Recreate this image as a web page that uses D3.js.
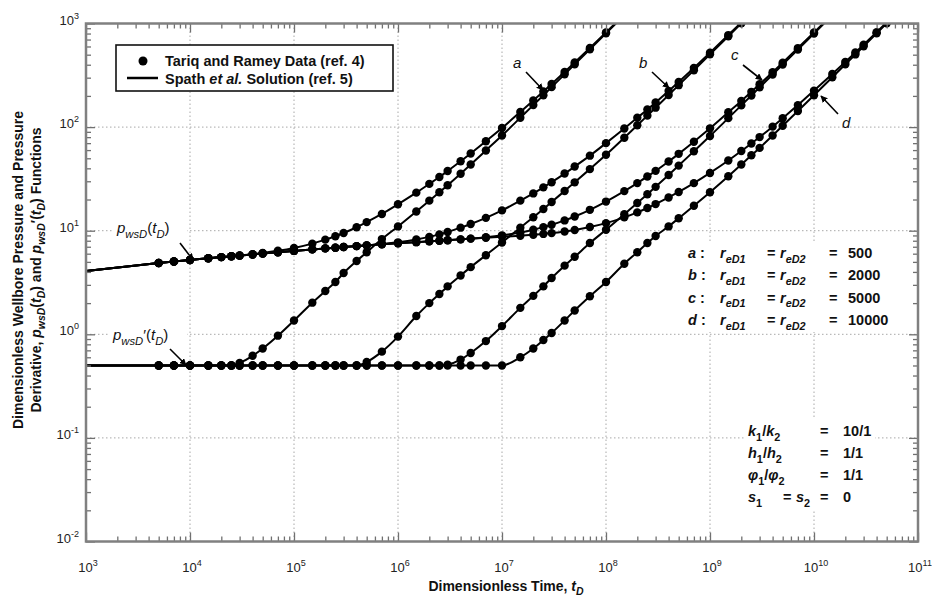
<!DOCTYPE html>
<html><head><meta charset="utf-8">
<script src="https://cdn.jsdelivr.net/npm/d3@7/dist/d3.min.js"></script>
<style>body{margin:0;background:#fff}svg{display:block;font-family:"Liberation Sans",Arial,Helvetica,sans-serif}</style>
</head><body><svg id="c" width="932" height="606"></svg>
<script>
// ---------------- DATA ----------------
// shared early-time pressure and derivative (all four cases coincide)
const pressureEarly = [[1e3,4.08],[5e3,4.88],[7e3,5.05],[1e4,5.22],[1.5e4,5.42],[2e4,5.56],[2.5e4,5.66],[3e4,5.75],[4e4,5.9],[5e4,6.02],[7e4,6.2],[1e5,6.38],[1.5e5,6.6],[2e5,6.75],[2.5e5,6.86],[3e5,6.95],[4e5,7.1],[5e5,7.22],[7e5,7.4],[1e6,7.55],[1.5e6,7.75],[2e6,7.9],[2.5e6,8.0],[3e6,8.1],[4e6,8.25],[5e6,8.38],[7e6,8.55],[1e7,8.72]];
const derivativeEarly = [[1e3,0.5],[5e3,0.5],[7e3,0.5],[1e4,0.5],[1.5e4,0.5],[2e4,0.5],[2.5e4,0.5],[3e4,0.5],[4e4,0.5],[5e4,0.5],[7e4,0.5],[1e5,0.5],[1.5e5,0.5],[2e5,0.5],[2.5e5,0.5],[3e5,0.5],[4e5,0.5],[5e5,0.5],[7e5,0.5],[1e6,0.5],[1.5e6,0.5],[2e6,0.5],[2.5e6,0.5],[3e6,0.5],[4e6,0.5],[5e6,0.5],[7e6,0.5],[1e7,0.5]];
// case-specific late-time parts (after each curve leaves the shared part)
const departA = 2.5e4, departB = 4e5, departC = 2.5e6, departD = 1e7;
const pressureA = [[3e4,5.76],[4e4,5.94],[5e4,6.1],[7e4,6.4],[1e5,6.82],[1.5e5,7.5],[2e5,8.2],[2.5e5,8.85],[3e5,9.5],[4e5,10.8],[5e5,12.1],[7e5,14.5],[1e6,18],[1.5e6,23.3],[2e6,28.3],[2.5e6,33],[3e6,37.7],[4e6,46.8],[5e6,55.6],[7e6,73],[1e7,98],[1.5e7,140],[2e7,181],[2.5e7,221],[3e7,261],[4e7,341],[5e7,421],[7e7,581],[1e8,821],[1.5e8,1221]];
const derivativeA = [[3e4,0.53],[4e4,0.62],[5e4,0.73],[7e4,0.97],[1e5,1.36],[1.5e5,2.02],[2e5,2.62],[2.5e5,3.2],[3e5,3.9],[4e5,5.1],[5e5,6.2],[7e5,8.3],[1e6,11],[1.5e6,15.3],[2e6,19.5],[2.5e6,23.5],[3e6,27.5],[4e6,35.5],[5e6,43.5],[7e6,59.5],[1e7,83],[1.5e7,123],[2e7,163],[2.5e7,203],[3e7,243],[4e7,323],[5e7,403],[7e7,563],[1e8,803],[1.5e8,1203]];
const pressureB = [[5e5,7.22],[7e5,7.43],[1e6,7.72],[1.5e6,8.22],[2e6,8.72],[2.5e6,9.22],[3e6,9.72],[4e6,10.7],[5e6,11.6],[7e6,13.3],[1e7,15.7],[1.5e7,19.5],[2e7,22.9],[2.5e7,26.2],[3e7,29.4],[4e7,35.6],[5e7,41.6],[7e7,53],[1e8,70],[1.5e8,97],[2e8,123],[2.5e8,148],[3e8,173],[4e8,223],[5e8,273],[7e8,373],[1e9,523],[1.5e9,773],[2e9,1023]];
const derivativeB = [[5e5,0.54],[7e5,0.68],[1e6,0.95],[1.5e6,1.5],[2e6,2.0],[2.5e6,2.45],[3e6,2.9],[4e6,3.7],[5e6,4.45],[7e6,5.8],[1e7,7.7],[1.5e7,10.7],[2e7,13.5],[2.5e7,16.2],[3e7,18.9],[4e7,24.2],[5e7,29.3],[7e7,39.3],[1e8,54],[1.5e8,79],[2e8,104],[2.5e8,129],[3e8,154],[4e8,204],[5e8,254],[7e8,354],[1e9,504],[1.5e9,754],[2e9,1004]];
const pressureC = [[3e6,8.09],[4e6,8.25],[5e6,8.39],[7e6,8.65],[1e7,9.02],[1.5e7,9.63],[2e7,10.23],[2.5e7,10.82],[3e7,11.4],[4e7,12.57],[5e7,13.7],[7e7,15.9],[1e8,19.1],[1.5e8,24.1],[2e8,28.8],[2.5e8,33.4],[3e8,37.8],[4e8,46.6],[5e8,55.2],[7e8,72.2],[1e9,97.3],[1.5e9,139],[2e9,179],[2.5e9,219],[3e9,259],[4e9,339],[5e9,419],[7e9,579],[1e10,819],[1.5e10,1219]];
const derivativeC = [[3e6,0.51],[4e6,0.57],[5e6,0.66],[7e6,0.86],[1e7,1.2],[1.5e7,1.8],[2e7,2.35],[2.5e7,2.9],[3e7,3.5],[4e7,4.6],[5e7,5.6],[7e7,7.6],[1e8,10.2],[1.5e8,14.4],[2e8,18.5],[2.5e8,22.5],[3e8,26.5],[4e8,34.5],[5e8,42.5],[7e8,58.5],[1e9,82],[1.5e9,122],[2e9,162],[2.5e9,202],[3e9,242],[4e9,322],[5e9,402],[7e9,562],[1e10,802],[1.5e10,1202]];
const pressureD = [[1.5e7,8.94],[2e7,9.13],[2.5e7,9.31],[3e7,9.48],[4e7,9.83],[5e7,10.17],[7e7,10.84],[1e8,11.83],[1.5e8,13.45],[2e8,15.03],[2.5e8,16.57],[3e8,18.07],[4e8,20.94],[5e8,23.64],[7e8,28.78],[1e9,36.1],[1.5e9,47.6],[2e9,58.7],[2.5e9,69.5],[3e9,80.1],[4e9,101],[5e9,121.8],[7e9,163],[1e10,225],[1.5e10,325],[2e10,425],[2.5e10,525],[3e10,625],[4e10,825],[5e10,1025]];
const derivativeD = [[1.5e7,0.6],[2e7,0.73],[2.5e7,0.88],[3e7,1.03],[4e7,1.36],[5e7,1.7],[7e7,2.33],[1e8,3.2],[1.5e8,4.8],[2e8,6.2],[2.5e8,7.6],[3e8,8.9],[4e8,11],[5e8,13.2],[7e8,17.4],[1e9,23.5],[1.5e9,33.5],[2e9,43.5],[2.5e9,53.5],[3e9,63],[4e9,83],[5e9,103],[7e9,143],[1e10,203],[1.5e10,303],[2e10,403],[2.5e10,503],[3e10,603],[4e10,803],[5e10,1003],[7e10,1403]];
const caseLabels = ["a","b","c","d"];
const caseRadii = ["500","2000","5000","10000"];
const xTickExponents = [3,4,5,6,7,8,9,10,11];
const yTickExponents = [-2,-1,0,1,2,3];
const firstDataTime = 5e3;

// ---------------- BUILD ----------------
const svg = d3.select('#c');
const X0=86, X1=918, Y0=23.5, Y1=541.5;
const x = d3.scaleLog().domain([1e3,1e11]).range([X0,X1]);
const y = d3.scaleLog().domain([1e-2,1e3]).range([Y1,Y0]);

const join = (early, dep, tail) => early.filter(d => d[0] <= dep).concat(tail);
const series = [
  join(pressureEarly, departA, pressureA), join(derivativeEarly, departA, derivativeA),
  join(pressureEarly, departB, pressureB), join(derivativeEarly, departB, derivativeB),
  join(pressureEarly, departC, pressureC), join(derivativeEarly, departC, derivativeC),
  join(pressureEarly, departD, pressureD), join(derivativeEarly, departD, derivativeD)
];

const defs = svg.append('defs');
defs.append('clipPath').attr('id','plot').append('rect').attr('x',X0).attr('y',Y0).attr('width',X1-X0).attr('height',Y1-Y0);
defs.append('marker').attr('id','ah').attr('viewBox','0 0 10 10').attr('refX',9).attr('refY',5)
  .attr('markerWidth',7).attr('markerHeight',7).attr('markerUnits','userSpaceOnUse').attr('orient','auto')
  .append('path').attr('d','M0,0 L10,5 L0,10 z').attr('fill','#000');

// grid
const gGrid = svg.append('g').attr('stroke','#a8a8a8').attr('stroke-width',1).attr('stroke-dasharray','1.5,2.5');
xTickExponents.slice(1,-1).forEach(e => gGrid.append('line').attr('x1',x(10**e)).attr('x2',x(10**e)).attr('y1',Y0).attr('y2',Y1));
yTickExponents.slice(1,-1).forEach(e => gGrid.append('line').attr('y1',y(10**e)).attr('y2',y(10**e)).attr('x1',X0).attr('x2',X1));

// white boxes behind annotations
svg.append('rect').attr('x',683).attr('y',241).attr('width',228).attr('height',91).attr('fill','#fff');
svg.append('rect').attr('x',745).attr('y',419).attr('width',130).attr('height',90).attr('fill','#fff');
svg.append('rect').attr('x',113).attr('y',218).attr('width',74).attr('height',21).attr('fill','#fff');
svg.append('rect').attr('x',109).attr('y',325).attr('width',78).attr('height',21).attr('fill','#fff');

// curves
const line = d3.line().x(d => x(d[0])).y(d => y(d[1])).curve(d3.curveMonotoneX);
const gData = svg.append('g').attr('clip-path','url(#plot)');
series.forEach(s => gData.append('path').attr('d', line(s)).attr('fill','none').attr('stroke','#000').attr('stroke-width',2));
series.forEach(s => gData.selectAll(null).data(s.filter(d => d[0] >= firstDataTime)).enter().append('circle')
  .attr('cx', d => x(d[0])).attr('cy', d => y(d[1])).attr('r',4.2).attr('fill','#000'));

// axes (inward ticks on all sides)
const majX = xTickExponents.map(e => 10**e), majY = yTickExponents.map(e => 10**e);
const minX = [], minY = [];
xTickExponents.slice(0,-1).forEach(e => { for (let k=2;k<=9;k++) minX.push(k*10**e); });
yTickExponents.slice(0,-1).forEach(e => { for (let k=2;k<=9;k++) minY.push(k*10**e); });
function ax(gen, vals, size, tr) {
  const g = svg.append('g').attr('transform', tr).call(gen.tickValues(vals).tickSize(-size).tickFormat(''));
  g.select('.domain').remove();
  g.selectAll('line').attr('stroke','#707070').attr('stroke-width',1.3);
}
ax(d3.axisBottom(x), majX, 9, `translate(0,${Y1})`); ax(d3.axisBottom(x), minX, 5, `translate(0,${Y1})`);
ax(d3.axisTop(x), majX, 9, `translate(0,${Y0})`); ax(d3.axisTop(x), minX, 5, `translate(0,${Y0})`);
ax(d3.axisLeft(y), majY, 9, `translate(${X0},0)`); ax(d3.axisLeft(y), minY, 5, `translate(${X0},0)`);
ax(d3.axisRight(y), majY, 9, `translate(${X1},0)`); ax(d3.axisRight(y), minY, 5, `translate(${X1},0)`);
svg.append('rect').attr('x',X0).attr('y',Y0).attr('width',X1-X0).attr('height',Y1-Y0)
  .attr('fill','none').attr('stroke','#808080').attr('stroke-width',2.5);

// tick labels
function pow10(px, py, e, anchor) {
  const t = svg.append('text').attr('x',px).attr('y',py).attr('text-anchor',anchor).attr('font-size',13).attr('fill','#222');
  t.append('tspan').text('10');
  t.append('tspan').attr('dy',-6).attr('font-size',9).text(e < 0 ? '-' + (-e) : e);
}
xTickExponents.forEach(e => pow10(x(10**e)+2, 572, e, 'middle'));
yTickExponents.forEach(e => pow10(X0-7, y(10**e)+1, e, 'end'));

// rich text helper
function rich(px, py, parts, size, opt) {
  opt = opt || {};
  const t = svg.append('text').attr('x',px).attr('y',py).attr('font-size',size)
    .attr('font-weight',opt.weight||'bold').attr('fill','#111').attr('text-anchor',opt.anchor||'start');
  if (opt.transform) t.attr('transform', opt.transform);
  let off = 0;
  parts.forEach(p => {
    if (typeof p === 'string') p = {t:p};
    const target = p.sub ? size*0.32 : 0;
    const s = t.append('tspan').attr('dy', target - off).text(p.t);
    if (p.sub) s.attr('font-size', size*0.75);
    if (p.it) s.attr('font-style','italic');
    off = target;
  });
  return t;
}

// axis titles
rich(506, 591, ['Dimensionless Time, ', {t:'t',it:true}, {t:'D',sub:true,it:true}], 14, {anchor:'middle'});
rich(0, 0, ['Dimensionless Wellbore Pressure and Pressure'], 14, {anchor:'middle', transform:'translate(23,270) rotate(-90)'});
rich(0, 0, ['Derivative, ', {t:'p',it:true}, {t:'wsD',sub:true,it:true}, '(', {t:'t',it:true}, {t:'D',sub:true,it:true}, ') and ',
  {t:'p',it:true}, {t:'wsD',sub:true,it:true}, '′(', {t:'t',it:true}, {t:'D',sub:true,it:true}, ') Functions'], 14,
  {anchor:'middle', transform:'translate(41,270) rotate(-90)'});

// legend
svg.append('rect').attr('x',116).attr('y',45).attr('width',277).attr('height',46).attr('fill','#fff').attr('stroke','#111').attr('stroke-width',1.6);
svg.append('circle').attr('cx',143).attr('cy',61).attr('r',4.5).attr('fill','#000');
svg.append('line').attr('x1',127).attr('x2',158).attr('y1',78).attr('y2',78).attr('stroke','#000').attr('stroke-width',2.5);
rich(165, 66, ['Tariq and Ramey Data (ref. 4)'], 14.5);
rich(165, 84, ['Spath ', {t:'et al.',it:true}, ' Solution (ref. 5)'], 14.5);

// function labels
rich(117, 233, [{t:'p',it:true}, {t:'wsD',sub:true,it:true}, '(', {t:'t',it:true}, {t:'D',sub:true,it:true}, ')'], 15, {weight:'normal'});
rich(113, 340, [{t:'p',it:true}, {t:'wsD',sub:true,it:true}, '′(', {t:'t',it:true}, {t:'D',sub:true,it:true}, ')'], 15, {weight:'normal'});
function arrow(x1,y1,x2,y2) {
  svg.append('line').attr('x1',x1).attr('y1',y1).attr('x2',x2).attr('y2',y2).attr('stroke','#000').attr('stroke-width',1.6).attr('marker-end','url(#ah)');
}
arrow(180,243,193,260);
arrow(170,349,186,365);

// case labels on curves
const caseLabelPos = [[513,68,526,72,543,90],[639,68,652,72,669,88],[731,60,743,65,762,80],[842,128,838,114,821,96]];
caseLabels.forEach((c,i) => {
  const p = caseLabelPos[i];
  rich(p[0], p[1], [{t:c,it:true}], 15, {weight:'normal'});
  arrow(p[2],p[3],p[4],p[5]);
});

// case table
caseLabels.forEach((c,i) => {
  const by = 258 + i*22.4;
  rich(688, by, [{t:c,it:true}, ' :'], 14.5);
  rich(720, by, [{t:'r',it:true}, {t:'eD1',sub:true,it:true}], 14.5);
  rich(767, by, ['='], 14.5);
  rich(780, by, [{t:'r',it:true}, {t:'eD2',sub:true,it:true}], 14.5);
  rich(829, by, ['='], 14.5);
  rich(848, by, [caseRadii[i]], 14.5);
});

// property table
const propRows = [
  [[{t:'k',it:true},{t:'1',sub:true},'/',{t:'k',it:true},{t:'2',sub:true}], '10/1'],
  [[{t:'h',it:true},{t:'1',sub:true},'/',{t:'h',it:true},{t:'2',sub:true}], '1/1'],
  [[{t:'φ',it:true},{t:'1',sub:true},'/',{t:'φ',it:true},{t:'2',sub:true}], '1/1']
];
propRows.forEach((r,i) => {
  const by = 436 + i*22;
  rich(748, by, r[0], 14.5);
  rich(820, by, ['='], 14.5);
  rich(843, by, [r[1]], 14.5);
});
rich(748, 502, [{t:'s',it:true},{t:'1',sub:true}], 14.5);
rich(783, 502, ['='], 14.5);
rich(796, 502, [{t:'s',it:true},{t:'2',sub:true}], 14.5);
rich(820, 502, ['='], 14.5);
rich(843, 502, ['0'], 14.5);
</script></body></html>
